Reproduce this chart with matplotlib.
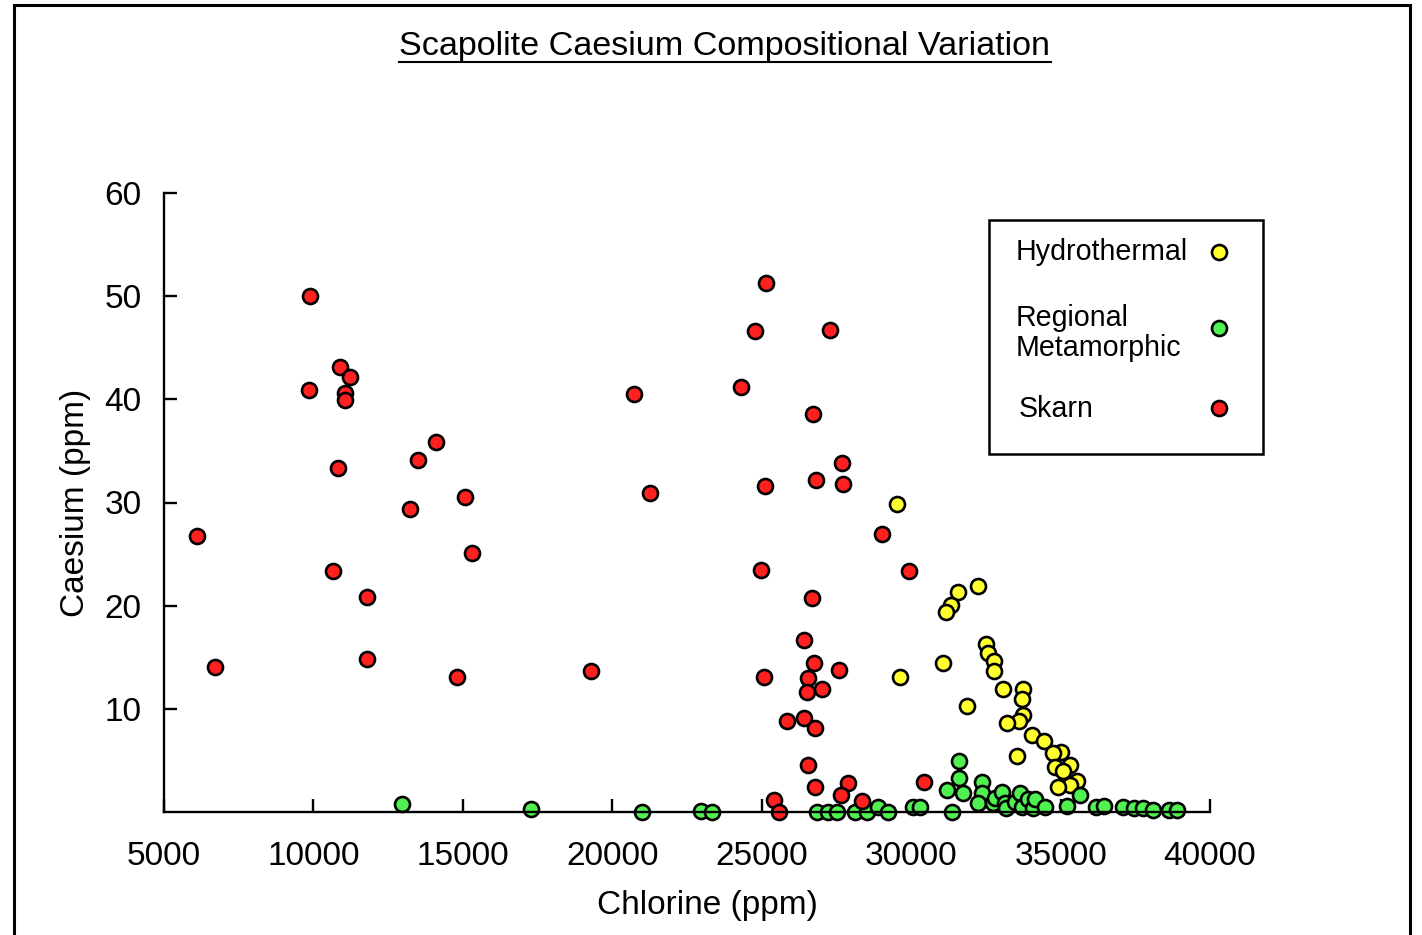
import matplotlib
matplotlib.use("Agg")
import matplotlib.pyplot as plt
from matplotlib.lines import Line2D
from matplotlib.patches import Rectangle

plt.rcParams['font.family'] = ['Liberation Sans', 'DejaVu Sans']

# Hydrothermal (yellow)
hydro_cl = [29520, 32250, 31570, 31330, 31180, 32520, 32570, 32780, 32770, 31080,
            29640, 33090, 33750, 33710, 31870, 33750, 33600, 33210, 34060, 34430,
            35010, 34750, 33550, 35330, 34810, 35090, 35560, 35310, 34900]
hydro_cs = [29.9, 21.9, 21.3, 20.1, 19.4, 16.3, 15.4, 14.6, 13.7, 14.4,
            13.1, 11.9, 11.9, 11.0, 10.3, 9.4, 8.8, 8.6, 7.5, 6.9,
            5.8, 5.7, 5.4, 4.6, 4.4, 4.0, 3.0, 2.6, 2.45]

# Regional metamorphic (green)
reg_cl = [12950, 17280, 20980, 22970, 23340, 26840, 27210, 27510, 28120, 28510,
          28900, 29220, 30070, 30290, 31380, 31600, 31600, 31210, 31750, 32360,
          32360, 32240, 32740, 32800, 33040, 33130, 33180, 33470, 33640, 33720,
          33920, 34090, 34140, 34490, 35200, 35660, 36200, 36450, 37090, 37450,
          37760, 38100, 38630, 38910]
reg_cs = [0.75, 0.25, 0.0, 0.1, 0.0, 0.0, 0.0, 0.0, 0.0, 0.0,
          0.45, 0.0, 0.5, 0.5, 0.0, 4.9, 3.3, 2.1, 1.8, 2.9,
          1.8, 0.9, 0.85, 1.4, 1.9, 0.85, 0.35, 1.0, 1.8, 0.5,
          1.3, 0.35, 1.3, 0.5, 0.6, 1.65, 0.5, 0.6, 0.5, 0.35,
          0.35, 0.15, 0.15, 0.15]

# Skarn (red)
skarn_cl = [6100, 6700, 9880, 9850, 10890, 11220, 11050, 11050, 10820, 10650,
            11790, 11790, 13230, 13500, 14100, 15070, 15300, 14800, 19290, 20720,
            21260, 25150, 24790, 27290, 24320, 26730, 27670, 26820, 27710, 25120,
            29010, 24970, 29940, 26690, 26410, 26750, 27570, 25060, 26550, 27010,
            26510, 25850, 26410, 26790, 26550, 30430, 27890, 26790, 25400, 27650,
            28360, 25570]
skarn_cs = [26.8, 14.1, 50.0, 40.9, 43.1, 42.2, 40.6, 39.9, 33.3, 23.4,
            20.8, 14.8, 29.4, 34.1, 35.9, 30.5, 25.1, 13.1, 13.7, 40.5,
            30.9, 51.3, 46.6, 46.7, 41.2, 38.6, 33.8, 32.2, 31.8, 31.6,
            26.9, 23.5, 23.4, 20.7, 16.7, 14.4, 13.8, 13.1, 13.0, 11.9,
            11.6, 8.8, 9.1, 8.1, 4.6, 2.9, 2.8, 2.4, 1.2, 1.6,
            1.1, 0.0]

groups = [("Hydrothermal", hydro_cl, hydro_cs, "#ffff30"),
          ("Regional\nMetamorphic", reg_cl, reg_cs, "#50f050"),
          ("Skarn", skarn_cl, skarn_cs, "#ff2020")]

W, H = 1422, 935
fig = plt.figure(figsize=(W/100, H/100), dpi=100)
ax = fig.add_axes([164/W, 1-812/H, 1046/W, 619/H])

for name, xs, ys, col in groups:
    ax.plot(xs, ys, 'o', ms=10.8, mfc=col, mec='black', mew=1.9,
            clip_on=False, zorder=2)

ax.set_xlim(5000, 40000)
ax.set_ylim(0, 60)
ax.set_xticks(range(5000, 40001, 5000))
ax.set_yticks(range(10, 61, 10))
for s in ['top', 'right']:
    ax.spines[s].set_visible(False)
for s in ['left', 'bottom']:
    ax.spines[s].set_linewidth(1.7)
    ax.spines[s].set_zorder(3)
ax.tick_params(direction='in', length=9.5, width=1.7, labelsize=24)
ax.tick_params(axis='x', pad=21)
ax.tick_params(axis='y', pad=16)

ax.set_xlabel("Chlorine (ppm)", fontsize=24)
ax.xaxis.set_label_coords(0.52, -0.126)
ax.set_ylabel("Caesium (ppm)", fontsize=24)
ax.yaxis.set_label_coords(-0.07, 0.5)

# legend box drawn by hand so labels sit left with markers on the right
fig.add_artist(Rectangle((989/W, 1-454/H), 274/W, 234/H, transform=fig.transFigure,
                         fill=False, edgecolor='black', lw=1.8))
text_pos = [(1016, 252), (1016, 333), (1019, 409)]
mark_y = [252, 328, 408]
for (name, xs, ys, col), (tx, ty), my in zip(groups, text_pos, mark_y):
    fig.text(tx/W, 1-ty/H, name, fontsize=20.6, ha='left', va='center',
             linespacing=1.06)
    fig.add_artist(Line2D([1219/W], [1-my/H], transform=fig.transFigure,
                          marker='o', ms=10.8, mfc=col, mec='black', mew=1.9,
                          ls='none'))

# title with underline
title = fig.text(725/W, 1-46/H, "Scapolite Caesium Compositional Variation",
                 fontsize=24.6, ha='center', va='center')
fig.canvas.draw()
bb = title.get_window_extent().transformed(fig.transFigure.inverted())
fig.add_artist(Line2D([bb.x0, bb.x1], [1-62/H, 1-62/H],
                      transform=fig.transFigure, color='black', lw=1.5))

# outer frame
fig.add_artist(Rectangle((14/W, -0.02), (1410-14)/W, 1.02-5/H,
                         transform=fig.transFigure, fill=False,
                         edgecolor='black', lw=2.2))

fig.savefig("out.png", dpi=100)
